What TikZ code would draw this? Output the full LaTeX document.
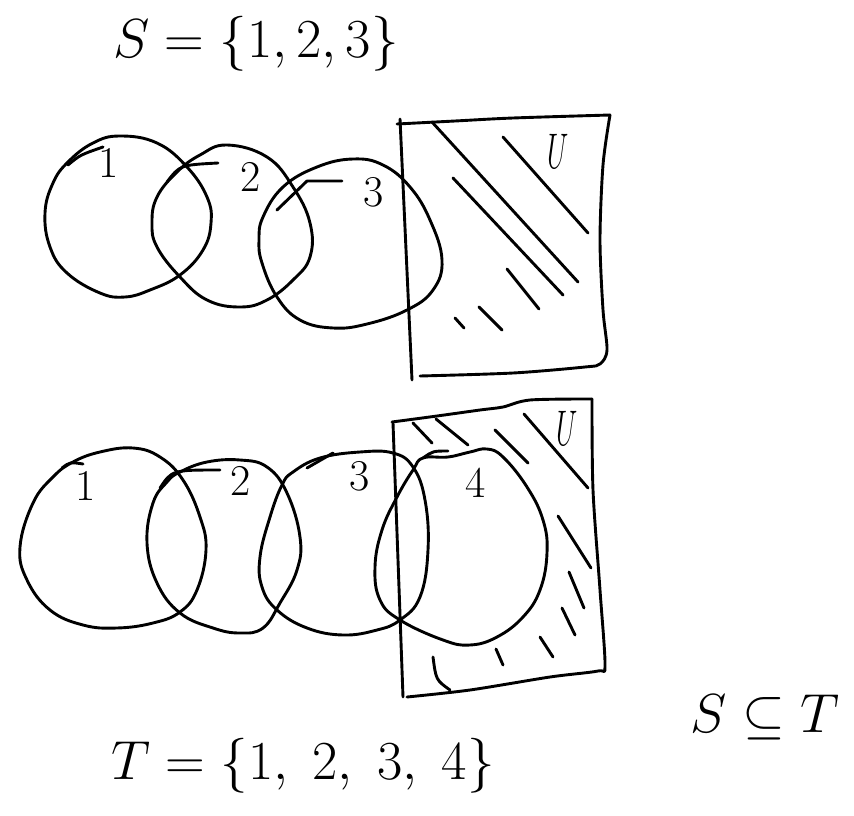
\RequirePackage{fix-cm}
\documentclass[tikz,border=0pt]{standalone}
\begin{document}
\begin{tikzpicture}[x=1pt,y=-1pt,
  pen/.style={line width=2.9pt, line cap=round, line join=round},
  hatch/.style={line width=2.9pt, line cap=round},
  lbl/.style={font=\fontsize{44}{44}\selectfont, inner sep=0pt},
  big/.style={font=\fontsize{55}{55}\selectfont, inner sep=0pt},
  ulbl/.style={font=\fontsize{50}{50}\selectfont, inner sep=0pt}]
\useasboundingbox (0,0) rectangle (854,816);

% ---------- top diagram ----------
\draw[pen] plot[smooth cycle, tension=0.7] coordinates {(45,213)(53,183)(68,162)(93,143)(120,136)(157,143)(187,167)(207,197)(211,223)(203,250)(180,275)(150,290)(125,297)(100,293)(67,273)(50,247)};
\draw[pen] (68,165) .. controls (80,155) .. (103,147);
\node[lbl] (t1) at (109,163) {1};

\draw[pen] plot[smooth cycle, tension=0.7] coordinates {(152,223)(157,197)(177,172)(200,155)(227,145)(267,157)(293,187)(310,223)(310,257)(293,280)(267,300)(240,307)(207,300)(180,277)(157,247)};
\draw[pen] (167,182) .. controls (180,165) .. (218,163);
\node[lbl] (t2) at (251,177) {2};

\draw[pen] plot[smooth cycle, tension=0.7] coordinates {(259,240)(263,217)(283,187)(317,167)(353,159)(383,165)(410,187)(430,220)(442,260)(433,290)(407,310)(367,324)(333,328)(300,320)(277,297)(262,263)};
\draw[pen] (277,210) -- (307,181) -- (342,181);
\node[lbl] (t3) at (374,192) {3};

% universe box (top)
\draw[pen] (400,119) -- (412,380);
\draw[pen] plot[smooth, tension=0.5] coordinates {(397,124)(455,121)(513,118)(610,115)};
\draw[pen] plot[smooth, tension=0.5] coordinates {(610,115)(603,165)(600,240)(603,310)(607,350)(600,364)(585,367)(513,373)(420,376)};
\node[ulbl] (tu) at (558,151) {\scalebox{0.55}[1]{$U$}};
\draw[hatch] (432,122) -- (578,282);
\draw[hatch] (503,137) -- (588,233);
\draw[hatch] (453,178) -- (563,295);
\draw[hatch] (507,269) -- (539,309);
\draw[hatch] (479,307) -- (502,330);
\draw[hatch] (455,318) -- (464,328);

% ---------- bottom diagram ----------
\draw[pen] plot[smooth cycle, tension=0.7] coordinates {(20,547)(27,580)(50,610)(83,625)(117,628)(153,623)(180,612)(197,590)(206,550)(200,517)(183,480)(160,457)(133,448)(100,452)(73,462)(53,477)(33,503)};
\draw[pen] (62,468) .. controls (70,462) .. (83,464);
\node[lbl] (b1) at (86,486) {1};

\draw[pen] plot[smooth cycle, tension=0.7] coordinates {(147,543)(153,503)(167,482)(180,472)(207,462)(240,460)(267,467)(287,493)(300,537)(297,570)(280,603)(263,628)(240,633)(213,628)(180,613)(157,583)};
\draw[pen] (160,488) .. controls (172,470) .. (220,470);
\node[lbl] (b2) at (241,481) {2};

\draw[pen] plot[smooth cycle, tension=0.7] coordinates {(260,557)(262,587)(277,610)(307,628)(343,635)(377,630)(400,620)(420,597)(428,550)(425,500)(413,467)(393,453)(360,452)(320,458)(293,472)(282,485)(270,517)};
\draw[pen] (307,468) -- (333,453);
\node[lbl] (b3) at (360,476) {3};

\draw[pen] plot[smooth cycle, tension=0.7] coordinates {(423,458)(448,457)(470,452)(487,449)(503,457)(527,487)(543,520)(547,553)(540,590)(523,617)(497,637)(470,645)(443,640)(400,620)(380,600)(375,567)(382,530)(397,497)(413,470)};
\draw[pen] (423,458) .. controls (433,451) .. (448,451);
\node[lbl] (b4) at (476,483) {4};

% universe box (bottom)
\draw[pen] (393,423) -- (403,697);
\draw[pen] plot[smooth, tension=0.5] coordinates {(392,422)(437,416)(480,410)(503,407)(530,400)(592,399)};
\draw[pen] plot[smooth, tension=0.5] coordinates {(592,399)(593,490)(600,590)(605,665)(598,671)(550,677)(470,690)(407,697)};
\node[ulbl] (bu) at (567,428) {\scalebox{0.55}[1]{$U$}};
\draw[hatch] (413,423) -- (432,443);
\draw[hatch] (436,419) -- (468,445);
\draw[hatch] (495,430) -- (528,463);
\draw[hatch] (524,414) -- (588,488);
\draw[hatch] (558,516) -- (591,568);
\draw[hatch] (569,572) -- (584,608);
\draw[hatch] (562,608) -- (575,635);
\draw[hatch] (540,637) -- (553,657);
\draw[hatch] (496,649) -- (503,665);
\draw[hatch] (433,657) .. controls (436,680) .. (450,690);

% ---------- texts ----------
\node[big] (sset) at (256,44) {$S=\{1,2,3\}$};
\node[big] (tset) at (303,766) {$T=\{1,\;2,\;3,\;4\}$};
\node[big] (sub) at (765,717) {$S\subseteq T$};
\end{tikzpicture}
\end{document}
